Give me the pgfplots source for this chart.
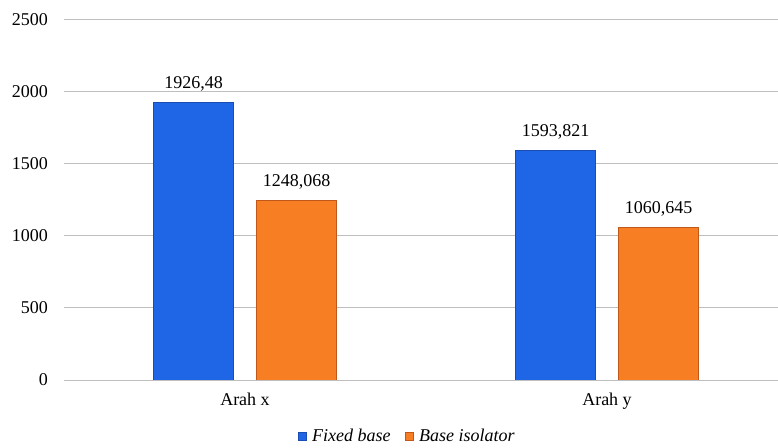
\documentclass[border=0pt]{standalone}
\usepackage{pgfplots}
\pgfplotsset{compat=1.18}
\usepackage{fontspec}
\setmainfont{Liberation Serif}
\definecolor{cblue}{HTML}{1F66E6}
\definecolor{cblueb}{HTML}{1A4DAF}
\definecolor{corange}{HTML}{F87E23}
\definecolor{corangeb}{HTML}{C0581A}
\definecolor{gridgray}{HTML}{BEBEBE}
\begin{document}
\begin{tikzpicture}
\useasboundingbox (-64bp,-68bp) rectangle (714bp,380bp);
\begin{axis}[
  at={(0,0)}, anchor=south west,
  scale only axis, width=724bp, height=360bp,
  xmin=-0.5, xmax=1.5, ymin=0, ymax=2500,
  ytick={0,500,...,2500},
  xtick={0,1}, xticklabels={Arah x, Arah y},
  axis x line*=bottom, axis y line*=left,
  y axis line style={draw=none},
  x axis line style={draw=gridgray, line width=1bp, -},
  y tick style={draw=none},
  x tick style={draw=none},
  extra x ticks={-0.5,0.5,1.5},
  extra x tick labels={},
  extra x tick style={tick align=outside, major tick length=5bp, tick style={draw=gridgray, line width=1bp}, grid=none},
  ymajorgrids, grid style={draw=gridgray, line width=1bp},
  font=\fontsize{18bp}{21bp}\selectfont,
  /pgf/number format/assume math mode=true,
  /pgf/number format/1000 sep={},
  yticklabel style={inner sep=0pt, xshift=-16bp},
  xticklabel style={inner sep=0pt, yshift=-9bp},
  ybar=23bp, bar width=80bp,
  nodes near coords, point meta=explicit symbolic,
  every node near coord/.append style={yshift=7bp, black},
  legend columns=-1,
  legend image code/.code={\draw[#1, line width=0.8bp] (0bp,-4bp) rectangle (8bp,4bp); \path[draw=none, fill=none] (0bp,0bp) -- (12bp,0bp);},
  legend style={draw=none, fill=none, at={(0.474,-0.125)}, anchor=north, font=\fontsize{18bp}{21bp}\selectfont\itshape,
    /tikz/every even column/.append style={column sep=12bp}},
]
\addplot[fill=cblue, draw=cblueb, line width=1bp] coordinates {(0,1926.48) [1926,48] (1,1593.821) [1593,821]};
\addplot[fill=corange, draw=corangeb, line width=1bp] coordinates {(0,1248.068) [1248,068] (1,1060.645) [1060,645]};
\legend{Fixed base, Base isolator}
\end{axis}
\end{tikzpicture}
\end{document}
